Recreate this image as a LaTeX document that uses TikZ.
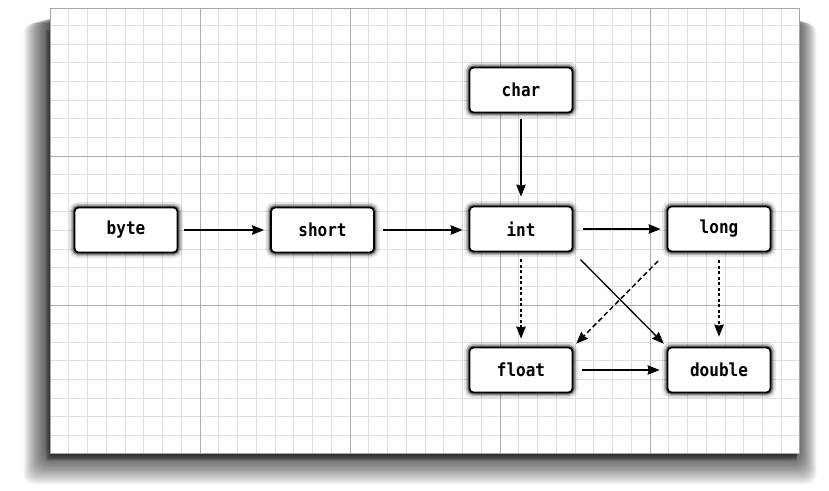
\documentclass[tikz,border=0pt]{standalone}
\usepackage{fontspec}
\newfontfamily\monofont[FakeStretch=0.89]{DejaVu Sans Mono}
\usetikzlibrary{arrows.meta}
\tikzset{
  typebox/.style={draw=black, line width=1.8pt, rounded corners=4pt, fill=white,
    minimum width=103pt, minimum height=45pt, inner sep=0pt,
    font=\monofont\bfseries\fontsize{18}{18}\selectfont,
    preaction={draw=black, draw opacity=0.10, line width=11pt},
    preaction={draw=black, draw opacity=0.20, line width=7pt},
    preaction={draw=black, draw opacity=0.40, line width=4pt}},
  conv/.style={line width=1.3pt, -{Stealth[length=12pt,width=9.5pt,inset=1pt]}, shorten <=6pt, shorten >=6pt},
  lossy/.style={conv, dash pattern=on 3pt off 2.5pt, line width=1.7pt},
  lossyd/.style={conv, dash pattern=on 5pt off 3pt, line width=1.5pt},
  minor/.style={draw=gray!25, line width=0.8pt},
  major/.style={draw=gray!65, line width=1pt},
}
\begin{document}
\begin{tikzpicture}[x=1pt,y=-1pt]
\useasboundingbox (0,0) rectangle (829,490);
\fill[white] (0,0) rectangle (829,490);
% paper shadow
\foreach \i in {1,...,24} {
  \fill[black, opacity=0.04, rounded corners=10pt] ({50-1.1*\i},{16+0.3*\i}) rectangle ({795+0.9*\i},{452+1.35*\i});
}
\foreach \i in {1,...,8} {
  \fill[black, opacity=0.08] ({52-0.8*\i},{30}) rectangle ({797},{454+0.9*\i});
}
% paper
\fill[white] (50,8) rectangle (799,453);
\begin{scope}
\clip (50,8) rectangle (799,453);
\foreach \i in {0,...,40} { \draw[minor] ({50+18.75*\i},8) -- ({50+18.75*\i},453); }
\foreach \j in {-8,...,16} { \draw[minor] (50,{156+18.625*\j}) -- (799,{156+18.625*\j}); }
\foreach \i in {8,16,24,32} { \draw[major] ({50+18.75*\i},8) -- ({50+18.75*\i},453); }
\foreach \j in {0,8} { \draw[major] (50,{156+18.625*\j}) -- (799,{156+18.625*\j}); }
\end{scope}
\draw[gray!70, line width=0.8pt] (50,8) rectangle (799,453);
% nodes
\node[typebox] (byte)   at (126,230) {byte};
\node[typebox] (short)  at (322.5,230) {short};
\node[typebox] (char)   at (521,90) {char};
\node[typebox] (int)    at (521,229) {int};
\node[typebox] (long)   at (719,229) {long};
\node[typebox] (float)  at (521,370) {float};
\node[typebox] (double) at (719,370) {double};
% connectors
\draw[conv] (byte) -- (short);
\draw[conv, shorten <=8pt] (short.east) -- (int.west |- short.east);
\draw[conv, shorten >=9pt] (char) -- (int);
\draw[conv, shorten <=10pt] (int) -- (long);
\draw[lossy, shorten <=7pt, shorten >=8pt] (int.south) -- (float.north);
\draw[lossy, shorten <=8pt, shorten >=10pt] (long.south) -- (double.north);
\draw[conv, shorten <=10pt, shorten >=4pt] (int.south east) -- (double.north west);
\draw[lossyd, shorten <=12pt, shorten >=4pt] (long.south west) -- (float.north east);
\draw[conv, shorten <=9pt, shorten >=7pt] (float) -- (double);
\end{tikzpicture}
\end{document}
